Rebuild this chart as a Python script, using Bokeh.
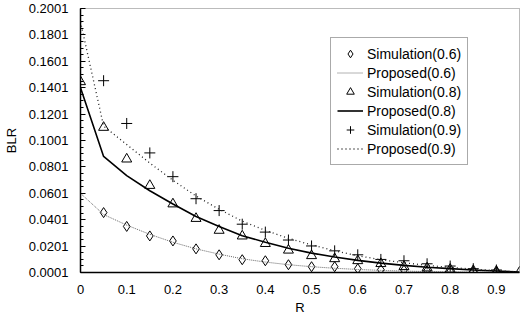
from bokeh.plotting import figure
from bokeh.models import Range1d, FixedTicker, NumeralTickFormatter, Legend, LegendItem
from bokeh.embed import file_html
from bokeh.resources import INLINE

r_line = [0.0, 0.05, 0.1, 0.15, 0.2, 0.25, 0.3, 0.35, 0.4, 0.45, 0.5,
          0.55, 0.6, 0.65, 0.7, 0.75, 0.8, 0.85, 0.9, 0.95]
proposed_06 = [0.0601, 0.044, 0.036, 0.029, 0.023, 0.018, 0.014, 0.0105, 0.008, 0.006, 0.0045,
               0.0033, 0.0024, 0.0017, 0.0012, 0.0008, 0.0005, 0.0003, 0.0002, 0.0001]
proposed_08 = [0.1401, 0.088, 0.0735, 0.062, 0.052, 0.0425, 0.035, 0.028, 0.023, 0.0185, 0.0148,
               0.0118, 0.0093, 0.0072, 0.0055, 0.0041, 0.003, 0.002, 0.0012, 0.0005]
proposed_09 = [0.19, 0.111, 0.097, 0.083, 0.07, 0.058, 0.048, 0.039, 0.032, 0.026, 0.021,
               0.0165, 0.0128, 0.0098, 0.0075, 0.0055, 0.004, 0.0026, 0.0015, 0.0006]

r_sim06 = [0.05, 0.1, 0.15, 0.2, 0.25, 0.3, 0.35, 0.4, 0.45, 0.5, 0.55, 0.6, 0.65, 0.7, 0.75, 0.8, 0.85, 0.9]
sim_06 = [0.0455, 0.035, 0.0278, 0.024, 0.018, 0.0135, 0.0098, 0.009, 0.006, 0.0045,
          0.0045, 0.003, 0.0023, 0.002, 0.0015, 0.001, 0.0008, 0.0005]

r_sim08 = [0.0, 0.05, 0.1, 0.15, 0.2, 0.25, 0.3, 0.35, 0.4, 0.45, 0.5,
           0.55, 0.6, 0.65, 0.7, 0.75, 0.8, 0.85, 0.9, 0.95]
sim_08 = [0.1446, 0.11, 0.086, 0.066, 0.052, 0.041, 0.032, 0.0277, 0.022, 0.017, 0.0128,
          0.0105, 0.009, 0.0068, 0.0045, 0.0035, 0.0025, 0.0015, 0.001, 0.0003]

r_sim09 = [0.05, 0.1, 0.15, 0.2, 0.25, 0.3, 0.35, 0.4, 0.45, 0.5,
           0.55, 0.6, 0.65, 0.7, 0.75, 0.8, 0.85, 0.9]
sim_09 = [0.1454, 0.113, 0.0907, 0.0727, 0.056, 0.047, 0.0367, 0.0307, 0.0247, 0.0202,
          0.0165, 0.0135, 0.01, 0.009, 0.0067, 0.005, 0.003, 0.002]

y_ticks = [0.0001 + 0.02 * i for i in range(11)]
y_minor = [0.0001 + 0.005 * i for i in range(41)]
x_ticks = [0, 0.1, 0.2, 0.3, 0.4, 0.5, 0.6, 0.7, 0.8, 0.9]
x_labels = {0: "0", 0.1: "0.1", 0.2: "0.2", 0.3: "0.3", 0.4: "0.4", 0.5: "0.5",
            0.6: "0.6", 0.7: "0.7", 0.8: "0.8", 0.9: "0.9"}

FONT = "Liberation Sans"

p = figure(frame_width=439, frame_height=264, output_backend="svg", toolbar_location=None,
           x_range=Range1d(0, 0.95), y_range=Range1d(0.0001, 0.2001),
           min_border_left=75, min_border_top=8, min_border_right=3, min_border_bottom=40)
p.background_fill_color = "white"
p.border_fill_color = "white"
p.grid.visible = False
p.outline_line_color = "#777777"
p.outline_line_dash = "1 1"
p.outline_line_width = 1

p.yaxis.ticker = FixedTicker(ticks=y_ticks, minor_ticks=y_minor)
p.yaxis.formatter = NumeralTickFormatter(format="0.0000")
p.xaxis.ticker = FixedTicker(ticks=x_ticks)
p.xaxis.major_label_overrides = x_labels

for ax in (p.xaxis, p.yaxis):
    ax.axis_line_color = "black"
    ax.axis_line_width = 1.5
    ax.major_label_text_font = FONT
    ax.major_label_text_font_size = "13px"
    ax.major_label_text_color = "black"
    ax.axis_label_text_font = FONT
    ax.axis_label_text_font_size = "13px"
    ax.axis_label_text_font_style = "normal"
    ax.axis_label_text_color = "black"

p.yaxis.major_tick_in = 5
p.yaxis.major_tick_out = 0
p.yaxis.minor_tick_in = 3
p.yaxis.minor_tick_out = 0
p.yaxis.major_tick_line_color = "black"
p.yaxis.minor_tick_line_color = "black"
p.yaxis.major_label_standoff = 12
p.yaxis.axis_label = "BLR"
p.yaxis.axis_label_standoff = 7

p.xaxis.major_tick_in = 0
p.xaxis.major_tick_out = 0
p.xaxis.minor_tick_in = 0
p.xaxis.minor_tick_out = 0
p.xaxis.major_label_standoff = 12
p.xaxis.axis_label = "R"
p.xaxis.axis_label_standoff = 3

s06 = p.scatter(r_sim06, sim_06, marker="diamond", size=10, fill_color="white",
                line_color="black", line_width=1)
l06 = p.line(r_line, proposed_06, line_color="#666666", line_dash="1 1", line_width=1)
s08 = p.scatter(r_sim08, sim_08, marker="triangle", size=10, fill_color=None,
                line_color="black", line_width=1)
l08 = p.line(r_line, proposed_08, line_color="black", line_width=1.6)
s09 = p.scatter(r_sim09, sim_09, marker="cross", size=11, line_color="black", line_width=1)
l09 = p.line(r_line, proposed_09, line_color="#222222", line_dash="1 3", line_width=1.3)

legend = Legend(items=[
    LegendItem(label="Simulation(0.6)", renderers=[s06]),
    LegendItem(label="Proposed(0.6)", renderers=[l06]),
    LegendItem(label="Simulation(0.8)", renderers=[s08]),
    LegendItem(label="Proposed(0.8)", renderers=[l08]),
    LegendItem(label="Simulation(0.9)", renderers=[s09]),
    LegendItem(label="Proposed(0.9)", renderers=[l09]),
], location=(250, 107))
legend.label_text_font = FONT
legend.label_text_font_size = "14px"
legend.label_text_color = "black"
legend.label_height = 19
legend.glyph_height = 19
legend.glyph_width = 26
legend.label_standoff = 4
legend.spacing = 0
legend.padding = 6
legend.margin = 0
legend.border_line_color = "#555555"
legend.border_line_width = 1
legend.background_fill_alpha = 1
p.add_layout(legend)

open("out.html", "w").write(file_html(p, INLINE))
